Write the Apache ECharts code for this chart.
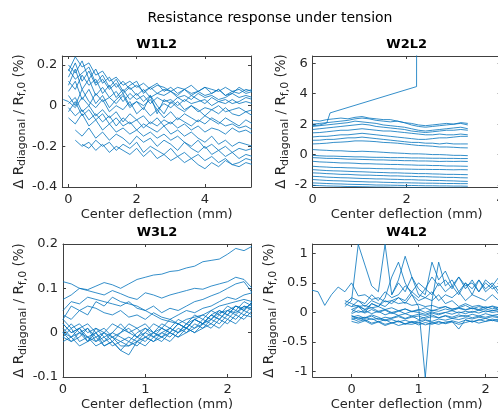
<!DOCTYPE html>
<html><head><meta charset="utf-8">
<script src="https://cdn.jsdelivr.net/npm/echarts@6/dist/echarts.min.js"></script>
<style>html,body{margin:0;padding:0;background:#fff}#c{width:498px;height:414px}</style>
</head><body><div id="c"></div>
<script>
// ---------- W1L2 ----------
const w1x = [-0.15,0,0.2,0.4,0.6,0.8,1,1.2,1.4,1.6,1.8,2,2.2,2.4,2.6,2.8,3,3.2,3.4,3.6,3.8,4,4.2,4.4,4.6,4.8,5,5.2,5.4];
const w1Lines = [
 [null,0.17,0.24,0.19,0.21,0.15,0.17,0.12,0.14,0.10,0.12,0.09,0.11,0.08,0.10,0.09,0.07,0.09,0.08,0.10,0.07,0.09,0.08,0.07,0.09,0.07,0.08,0.06,0.07],
 [null,0.20,0.16,0.22,0.13,0.18,0.11,0.14,0.09,0.12,0.08,0.10,0.07,0.09,0.06,0.08,0.07,0.05,0.08,0.06,0.07,0.05,0.06,0.08,0.05,0.06,0.09,0.07,0.08],
 [null,0.14,0.21,0.12,0.17,0.10,0.13,0.08,0.11,0.06,0.09,0.05,0.08,0.04,0.06,0.05,0.07,0.04,0.05,0.03,0.06,0.04,0.05,0.03,0.04,0.06,0.04,0.05,0.04],
 [null,0.10,0.18,0.08,0.13,0.05,0.09,0.04,0.07,0.02,0.06,0.03,0.05,0.01,0.04,0.02,0.03,0.00,0.03,0.01,0.02,0.03,0.00,0.02,0.01,0.03,0.01,0.02,0.01],
 [0.03,0.02,-0.01,0.04,0.00,0.06,0.02,0.04,0.01,0.05,-0.01,0.02,0.00,0.03,-0.02,0.01,-0.01,0.02,-0.02,0.00,-0.03,-0.01,-0.02,0.00,-0.03,-0.02,-0.01,-0.03,-0.02],
 [null,0.07,0.12,0.03,0.08,0.01,0.05,-0.01,0.03,0.06,0.00,0.02,-0.02,0.05,0.00,-0.04,0.02,-0.01,-0.03,0.00,-0.02,-0.05,-0.02,-0.04,-0.01,-0.04,-0.05,-0.03,-0.05],
 [null,0.05,0.00,0.08,0.02,-0.01,0.03,-0.03,0.00,-0.02,0.02,-0.04,-0.01,-0.05,-0.02,-0.06,-0.03,-0.07,-0.04,-0.06,-0.08,-0.05,-0.07,-0.09,-0.06,-0.08,-0.10,-0.07,-0.09],
 [null,0.01,0.04,-0.03,0.00,-0.05,-0.02,-0.06,-0.03,-0.08,-0.04,-0.07,-0.05,-0.09,-0.06,-0.10,-0.08,-0.11,-0.09,-0.12,-0.10,-0.13,-0.11,-0.12,-0.14,-0.11,-0.13,-0.12,-0.14],
 [null,-0.03,0.02,-0.05,-0.02,-0.07,-0.04,-0.09,-0.06,-0.10,-0.08,-0.12,-0.09,-0.11,-0.13,-0.10,-0.14,-0.12,-0.15,-0.13,-0.16,-0.18,-0.15,-0.19,-0.17,-0.20,-0.18,-0.19,-0.20],
 [null,-0.06,-0.09,-0.04,-0.10,-0.07,-0.12,-0.09,-0.13,-0.11,-0.14,-0.12,-0.15,-0.13,-0.16,-0.14,-0.17,-0.15,-0.18,-0.20,-0.17,-0.21,-0.19,-0.22,-0.20,-0.23,-0.21,-0.22,-0.21],
 [null,null,-0.12,-0.15,-0.11,-0.16,-0.13,-0.17,-0.14,-0.16,-0.19,-0.15,-0.18,-0.16,-0.20,-0.17,-0.19,-0.22,-0.18,-0.21,-0.23,-0.20,-0.24,-0.22,-0.25,-0.23,-0.26,-0.24,-0.25],
 [null,null,-0.17,-0.20,-0.18,-0.22,-0.19,-0.23,-0.20,-0.22,-0.24,-0.21,-0.25,-0.22,-0.26,-0.24,-0.27,-0.25,-0.28,-0.26,-0.29,-0.31,-0.28,-0.30,-0.27,-0.29,-0.28,-0.26,-0.27],
 [null,null,null,-0.19,-0.21,-0.17,-0.20,-0.18,-0.22,-0.19,-0.21,-0.18,-0.23,-0.20,-0.22,-0.24,-0.21,-0.25,-0.23,-0.26,-0.24,-0.27,-0.25,-0.28,-0.26,-0.29,-0.30,-0.28,-0.29],
 [null,0.12,0.08,0.15,0.10,0.13,0.06,0.10,0.04,0.08,0.03,0.06,0.02,0.05,-0.04,0.03,0.01,0.04,0.02,0.05,0.03,0.01,0.04,0.02,0.03,0.01,0.02,0.04,0.03],
 [null,0.18,0.13,0.16,0.19,0.11,0.15,0.09,0.13,0.07,0.10,0.12,0.06,0.09,0.11,0.07,0.09,0.06,0.08,0.05,0.07,0.09,0.06,0.08,0.05,0.07,0.06,0.08,0.07],
 [null,-0.01,-0.05,-0.02,-0.07,-0.04,-0.08,-0.05,-0.10,-0.06,-0.09,-0.07,-0.11,-0.08,-0.10,-0.07,-0.09,-0.06,-0.08,-0.10,-0.07,-0.09,-0.06,-0.08,-0.10,-0.09,-0.11,-0.10,-0.12]
];
const w1XTicks = [0, 2, 4];
const w1YTicks = [-0.4, -0.2, 0, 0.2];

// ---------- W2L2 ----------
const w2x = [0,0.15,0.3,0.45,0.6,0.75,0.9,1.05,1.2,1.35,1.5,1.65,1.8,1.95,2.1,2.25,2.4,2.55,2.7,2.85,3,3.15,3.3];
const w2Lines = [
 [2.25,2.2,2.3,2.35,2.4,2.35,2.45,2.5,2.4,2.35,2.3,2.3,2.2,2.1,2.05,1.95,1.9,1.95,2.0,2.05,2.0,2.1,2.05],
 [2.0,2.05,2.1,2.15,2.2,2.25,2.35,2.4,2.35,2.25,2.2,2.15,2.2,2.1,1.95,1.85,1.8,1.85,1.9,1.95,2.0,2.05,1.95],
 [1.85,1.9,1.95,2.0,2.05,2.1,2.2,2.15,2.1,2.05,1.95,1.9,1.85,1.8,1.7,1.6,1.55,1.6,1.65,1.7,1.75,1.8,1.7],
 [1.65,1.7,1.75,1.8,1.85,1.9,1.95,2.0,1.95,1.85,1.8,1.75,1.7,1.65,1.55,1.5,1.45,1.5,1.55,1.6,1.6,1.65,1.6],
 [1.43,1.45,1.5,1.55,1.6,1.6,1.65,1.7,1.65,1.6,1.55,1.55,1.5,1.45,1.4,1.35,1.3,1.3,1.35,1.3,1.3,1.35,1.3],
 [1.16,1.2,1.2,1.25,1.3,1.3,1.35,1.4,1.35,1.3,1.25,1.2,1.15,1.1,1.05,1.0,1.0,1.05,1.1,1.1,1.15,1.2,1.2],
 [0.94,0.95,1.0,1.0,1.05,1.1,1.1,1.15,1.1,1.05,1.0,0.95,0.9,0.85,0.8,0.8,0.75,0.75,0.7,0.75,0.7,0.7,0.7],
 [0.7,0.72,0.75,0.8,0.82,0.85,0.9,0.9,0.88,0.85,0.8,0.78,0.75,0.7,0.65,0.6,0.58,0.55,0.5,0.5,0.48,0.45,0.44],
 [0.33,0.3,0.28,0.25,0.25,0.22,0.2,0.22,0.2,0.18,0.15,0.12,0.1,0.08,0.05,0.05,0.03,0.0,0.0,-0.02,-0.05,-0.05,-0.07],
 [-0.05,-0.08,-0.1,-0.1,-0.12,-0.13,-0.15,-0.15,-0.17,-0.18,-0.18,-0.2,-0.2,-0.2,-0.22,-0.22,-0.23,-0.24,-0.24,-0.25,-0.25,-0.26,-0.26],
 [-0.2,-0.22,-0.25,-0.25,-0.27,-0.3,-0.3,-0.32,-0.33,-0.35,-0.35,-0.37,-0.38,-0.4,-0.4,-0.42,-0.42,-0.43,-0.45,-0.44,-0.45,-0.44,-0.45],
 [-0.44,-0.48,-0.5,-0.52,-0.55,-0.55,-0.57,-0.6,-0.6,-0.62,-0.63,-0.65,-0.65,-0.67,-0.68,-0.7,-0.7,-0.72,-0.72,-0.75,-0.75,-0.76,-0.77],
 [-0.77,-0.8,-0.82,-0.85,-0.85,-0.87,-0.88,-0.9,-0.9,-0.92,-0.93,-0.93,-0.95,-0.95,-0.96,-0.97,-0.97,-0.98,-0.98,-0.99,-1.0,-0.99,-1.0],
 [-0.99,-1.02,-1.05,-1.07,-1.08,-1.1,-1.12,-1.13,-1.15,-1.17,-1.18,-1.2,-1.2,-1.22,-1.23,-1.25,-1.25,-1.27,-1.28,-1.3,-1.3,-1.31,-1.32],
 [-1.2,-1.22,-1.25,-1.27,-1.3,-1.3,-1.33,-1.35,-1.35,-1.37,-1.38,-1.4,-1.4,-1.42,-1.43,-1.45,-1.45,-1.47,-1.48,-1.5,-1.5,-1.52,-1.53],
 [-1.43,-1.45,-1.48,-1.5,-1.52,-1.53,-1.55,-1.57,-1.58,-1.6,-1.6,-1.62,-1.63,-1.65,-1.65,-1.67,-1.68,-1.7,-1.7,-1.72,-1.73,-1.75,-1.76],
 [-1.64,-1.67,-1.7,-1.72,-1.73,-1.75,-1.77,-1.78,-1.8,-1.8,-1.82,-1.83,-1.85,-1.85,-1.86,-1.87,-1.88,-1.88,-1.89,-1.9,-1.9,-1.91,-1.91],
 [-1.86,-1.88,-1.9,-1.92,-1.93,-1.95,-1.96,-1.97,-1.98,-2.0,-2.0,-2.01,-2.02,-2.03,-2.03,-2.04,-2.05,-2.05,-2.06,-2.06,-2.07,-2.07,-2.08],
 [-2.02,-2.04,-2.06,-2.07,-2.08,-2.1,-2.1,-2.11,-2.12,-2.13,-2.13,-2.14,-2.15,-2.15,-2.16,-2.17,-2.17,-2.18,-2.18,-2.19,-2.19,-2.2,-2.2]
];
const w2OutlierX = [0, 0.15, 0.3, 0.37, 2.21, 2.22];
const w2OutlierY = [1.9, 1.95, 2.08, 2.74, 4.47, 40];
const w2XTicks = [0, 2, 4];
const w2YTicks = [-2, 0, 2, 4, 6];

// ---------- W3L2 ----------
const w3x = [0,0.1,0.2,0.3,0.4,0.5,0.6,0.7,0.8,0.9,1,1.1,1.2,1.3,1.4,1.5,1.6,1.7,1.8,1.9,2,2.1,2.2,2.3,2.4];
const w3Lines = [
 [0.115,0.11,0.1,0.097,0.105,0.113,0.108,0.1,0.11,0.12,0.125,0.13,0.132,0.138,0.14,0.146,0.15,0.16,0.163,0.166,0.177,0.19,0.185,0.195,0.19],
 [0.075,0.085,0.1,0.095,0.09,0.085,0.095,0.088,0.08,0.075,0.09,0.085,0.078,0.085,0.09,0.095,0.1,0.098,0.105,0.11,0.115,0.125,0.12,0.1,0.105],
 [0.05,0.07,0.065,0.08,0.075,0.07,0.065,0.06,0.07,0.055,0.05,0.06,0.045,0.055,0.05,0.06,0.07,0.075,0.083,0.09,0.1,0.11,0.115,0.09,0.095],
 [0.04,0.03,0.05,0.06,0.055,0.045,0.04,0.05,0.035,0.04,0.03,0.045,0.035,0.03,0.04,0.05,0.045,0.055,0.06,0.07,0.08,0.075,0.085,0.09,0.088],
 [0.03,0.06,0.05,0.04,0.07,0.06,0.08,0.07,0.065,0.06,0.05,0.04,0.03,0.025,0.02,0.03,0.035,0.04,0.05,0.06,0.065,0.07,0.075,0.07,0.072],
 [0.02,0.0,0.01,-0.01,0.0,-0.02,0.0,-0.01,-0.02,0.0,0.01,-0.01,0.0,0.01,0.0,0.02,0.01,0.03,0.02,0.04,0.03,0.05,0.04,0.06,0.05],
 [0.0,-0.02,-0.01,0.01,-0.02,-0.01,-0.03,-0.02,-0.01,-0.02,0.0,-0.01,0.01,0.0,0.02,0.01,0.03,0.02,0.04,0.03,0.05,0.04,0.06,0.05,0.06],
 [-0.01,0.01,-0.02,-0.01,-0.03,-0.02,-0.01,-0.03,-0.03,-0.02,-0.01,-0.02,0.0,-0.01,0.01,0.0,0.02,0.01,0.03,0.05,0.04,0.06,0.05,0.07,0.06],
 [0.03,0.01,0.02,0.0,0.01,0.0,0.02,0.01,0.0,0.01,-0.01,0.0,0.02,0.01,0.03,0.02,0.04,0.03,0.05,0.04,0.06,0.05,0.07,0.06,0.065],
 [-0.02,-0.01,-0.03,-0.02,-0.01,-0.03,-0.02,-0.04,-0.02,-0.03,-0.01,-0.02,-0.01,0.0,-0.01,0.01,0.0,0.02,0.01,0.03,0.02,0.04,0.03,0.05,0.04],
 [0.01,-0.01,0.0,-0.02,0.01,-0.01,0.0,0.02,0.0,-0.01,0.01,0.0,-0.01,0.01,0.0,0.02,0.03,0.02,0.04,0.05,0.04,0.06,0.055,0.065,0.06],
 [0.0,0.02,0.0,0.01,-0.01,0.0,-0.02,0.0,0.01,-0.01,0.0,0.02,0.01,0.0,0.02,0.01,0.03,0.04,0.03,0.045,0.05,0.045,0.06,0.055,0.06],
 [-0.01,-0.02,0.0,-0.01,-0.02,0.0,-0.01,-0.02,-0.03,-0.01,-0.02,0.0,-0.01,-0.02,0.0,0.01,0.0,0.01,0.02,0.01,0.03,0.02,0.04,0.035,0.045],
 [0.02,0.0,0.01,0.02,0.0,0.01,-0.01,0.0,0.02,0.01,0.02,0.0,0.01,0.03,0.02,0.01,0.03,0.02,0.04,0.03,0.05,0.06,0.05,0.07,0.065],
 [0.0,-0.01,0.01,-0.02,0.0,-0.03,-0.02,-0.04,-0.05,-0.02,-0.03,-0.01,-0.02,0.0,-0.01,0.0,0.01,0.02,0.03,0.02,0.04,0.03,0.05,0.04,0.05]
];
const w3XTicks = [0, 1, 2];
const w3YTicks = [-0.1, 0, 0.1, 0.2];

// ---------- W4L2 ----------
const w4x = [-0.6,-0.5,-0.4,-0.3,-0.2,-0.1,0,0.1,0.2,0.3,0.4,0.5,0.6,0.7,0.8,0.9,1,1.1,1.2,1.3,1.4,1.5,1.6,1.7,1.8,1.9,2,2.1,2.2,2.3];
const w4Lines = [
 [0.38,0.35,0.12,0.3,0.43,0.35,0.5,0.28,0.3,0.22,0.25,0.18,0.2,0.15,0.17,0.12,0.14,0.1,0.12,0.08,0.1,0.06,0.08,0.05,0.07,0.04,0.06,0.03,0.05,0.04],
 [null,null,null,null,null,0.1,0.2,1.15,0.8,0.45,0.35,1.15,0.3,0.55,0.95,0.6,0.3,0.25,0.2,0.3,0.15,0.2,0.1,0.15,0.1,0.12,0.08,0.1,0.05,0.08],
 [null,null,null,null,null,null,0.05,0.1,0.0,0.15,0.1,0.25,0.6,0.85,0.5,0.3,0.1,-1.1,0.2,0.85,0.45,0.55,0.35,0.5,0.3,0.55,0.4,0.5,0.35,0.45],
 [null,null,null,null,null,null,0.1,0.2,0.15,0.3,0.2,0.35,0.25,0.3,0.45,0.35,0.5,0.4,0.6,0.45,0.55,0.4,0.6,0.45,0.5,0.35,0.55,0.45,0.6,0.5],
 [null,null,null,null,null,null,0.0,0.1,0.05,0.15,0.1,0.2,0.15,0.25,0.2,0.35,0.25,0.4,0.3,0.5,0.35,0.45,0.3,0.5,0.4,0.55,0.35,0.45,0.3,0.4],
 [null,null,null,null,null,0.15,0.25,0.2,0.1,0.2,0.15,0.1,0.2,0.25,0.15,0.3,0.2,0.25,0.35,0.2,0.3,0.25,0.35,0.2,0.3,0.25,0.2,0.3,0.2,0.25],
 [null,null,null,null,null,null,null,null,null,null,null,null,0.3,0.5,0.35,0.6,0.4,0.3,0.85,0.55,0.7,0.45,0.6,0.4,0.55,0.35,0.5,0.4,0.45,0.35],
 [null,null,null,null,null,0.15,0.1,0.12,0.05,0.08,0.02,0.05,0.0,0.03,-0.02,0.02,0.0,-0.03,0.01,-0.02,0.0,0.03,-0.01,0.02,0.0,0.04,0.01,0.03,0.05,0.02],
 [null,null,null,null,null,null,-0.05,-0.1,-0.08,-0.12,-0.1,-0.14,-0.12,-0.16,-0.13,-0.17,-0.14,-0.12,-0.15,-0.11,-0.13,-0.1,-0.12,-0.09,-0.11,-0.08,-0.1,-0.07,-0.09,-0.08],
 [null,null,null,null,null,null,-0.1,-0.15,-0.12,-0.18,-0.15,-0.2,-0.17,-0.22,-0.19,-0.2,-0.17,-0.21,-0.18,-0.15,-0.19,-0.16,-0.2,-0.17,-0.14,-0.18,-0.15,-0.13,-0.16,-0.12],
 [null,null,null,null,null,null,-0.12,-0.08,-0.14,-0.1,-0.16,-0.12,-0.18,-0.14,-0.2,-0.15,-0.18,-0.13,-0.17,-0.2,-0.16,-0.15,-0.28,-0.12,-0.16,-0.13,-0.1,-0.14,-0.11,-0.13],
 [null,null,null,null,null,null,0.05,0.0,0.03,-0.02,0.02,-0.04,0.0,-0.05,-0.02,-0.06,-0.03,-0.05,-0.01,-0.04,0.0,-0.03,0.01,-0.02,0.02,-0.01,0.03,0.0,0.02,0.01],
 [null,null,null,null,null,null,-0.08,-0.05,-0.1,-0.06,-0.12,-0.08,-0.1,-0.07,-0.11,-0.08,-0.06,-0.1,-0.07,-0.09,-0.05,-0.08,-0.04,-0.07,-0.03,-0.06,-0.02,-0.05,-0.03,-0.04],
 [null,null,null,null,null,0.2,0.15,0.1,0.12,0.08,0.1,0.05,0.08,0.03,0.06,0.02,0.05,0.0,0.04,0.02,0.06,0.03,0.07,0.04,0.08,0.05,0.1,0.06,0.09,0.07],
 [null,null,null,null,null,null,-0.15,-0.18,-0.14,-0.2,-0.16,-0.22,-0.18,-0.15,-0.19,-0.16,-0.21,-0.17,-0.2,-0.16,-0.18,-0.14,-0.17,-0.13,-0.16,-0.12,-0.15,-0.11,-0.14,-0.12],
 [null,null,null,null,null,null,-0.02,0.03,-0.01,0.05,0.0,0.04,-0.02,0.02,0.06,0.01,0.04,0.08,0.03,0.06,0.1,0.05,0.08,0.12,0.06,0.1,0.07,0.11,0.08,0.1],
 [null,null,null,null,null,null,-0.06,-0.12,-0.09,-0.04,-0.08,-0.13,-0.09,-0.05,-0.1,-0.06,-0.12,-0.08,-0.04,-0.09,-0.06,-0.1,-0.07,-0.05,-0.09,-0.06,-0.08,-0.05,-0.07,-0.06]
];
const w4XTicks = [0, 1, 2];
const w4YTicks = [-1, -0.5, 0, 0.5, 1];

// ---------- layout / style ----------
const FONT = 'DejaVu Sans';
const TXT = '#262626';
const AX = '#404040';
const LINE = '#0072BD';

const panels = [
  {title:'W1L2', left:62.3, top:56, width:188.7, height:131, xmin:-0.18, xmax:5.35, ymin:-0.4, ymax:0.244,
   xt:w1XTicks, yt:w1YTicks, xs:[{x:w1x, lines:w1Lines}], yGap:33},
  {title:'W2L2', left:312.7, top:56, width:188, height:131, xmin:0, xmax:4, ymin:-2.13, ymax:6.48,
   xt:w2XTicks, yt:w2YTicks, xs:[{x:w2x, lines:w2Lines}, {x:w2OutlierX, lines:[w2OutlierY]}], yGap:20},
  {title:'W3L2', left:63, top:244, width:188, height:133, xmin:0, xmax:2.285, ymin:-0.1, ymax:0.2,
   xt:w3XTicks, yt:w3YTicks, xs:[{x:w3x, lines:w3Lines}], yGap:33},
  {title:'W4L2', left:312.7, top:244, width:188, height:133, xmin:-0.58, xmax:2.226, ymin:-1.09, ymax:1.157,
   xt:w4XTicks, yt:w4YTicks, xs:[{x:w4x, lines:w4Lines}], yGap:30}
];

const yName = '{m|\u0394 R}{s|diagonal}{m| / R}{s|f,0}{m| (%)}';
const grid = [], xAxis = [], yAxis = [], series = [], graphic = [];

graphic.push({type:'text', x:270, y:18, style:{text:'Resistance response under tension', fontFamily:FONT, fontSize:14, fill:'#000', align:'center', verticalAlign:'middle'}});

panels.forEach((p, k) => {
  grid.push({left:p.left, top:p.top, width:p.width, height:p.height, containLabel:false, outerBoundsMode:'none'});
  graphic.push({type:'text', x:p.left + p.width/2, y:p.top - 11, style:{text:p.title, fontFamily:FONT, fontSize:13, fontWeight:'bold', fill:'#000', align:'center', verticalAlign:'middle'}});
  const axLine = {show:true, onZero:false, lineStyle:{color:AX, width:1}};
  const lbl = {fontFamily:FONT, fontSize:13, color:TXT};
  xAxis.push({type:'value', gridIndex:k, position:'bottom', min:p.xmin, max:p.xmax,
    axisLine:axLine, splitLine:{show:false},
    axisTick:{show:true, inside:true, length:3, customValues:p.xt, lineStyle:{color:AX}},
    axisLabel:Object.assign({margin:6, customValues:p.xt, formatter:v=>String(v)}, lbl),
    name:'Center deflection (mm)', nameLocation:'middle', nameGap:21,
    nameTextStyle:{fontFamily:FONT, fontSize:13, color:TXT}});
  xAxis.push({type:'value', gridIndex:k, position:'top', min:p.xmin, max:p.xmax,
    axisLine:axLine, splitLine:{show:false}, axisLabel:{show:false},
    axisTick:{show:true, inside:true, length:3, customValues:p.xt, lineStyle:{color:AX}}});
  yAxis.push({type:'value', gridIndex:k, position:'left', min:p.ymin, max:p.ymax,
    axisLine:axLine, splitLine:{show:false},
    axisTick:{show:true, inside:true, length:3, customValues:p.yt, lineStyle:{color:AX}},
    axisLabel:Object.assign({margin:5, customValues:p.yt, formatter:v=>String(v)}, lbl),
    name:yName, nameLocation:'middle', nameRotate:90, nameGap:p.yGap,
    nameTextStyle:{fontFamily:FONT, color:TXT,
      rich:{m:{fontFamily:FONT, fontSize:13.5, color:TXT, lineHeight:18},
            s:{fontFamily:FONT, fontSize:11, color:TXT, lineHeight:10, verticalAlign:'bottom'}}}});
  yAxis.push({type:'value', gridIndex:k, position:'right', min:p.ymin, max:p.ymax,
    axisLine:axLine, splitLine:{show:false}, axisLabel:{show:false},
    axisTick:{show:true, inside:true, length:3, customValues:p.yt, lineStyle:{color:AX}}});
  p.xs.forEach(set => {
    set.lines.forEach(ys => {
      const data = [];
      ys.forEach((v, i) => { if (v !== null && set.x[i] !== undefined) data.push([set.x[i], v]); });
      series.push({type:'line', xAxisIndex:2*k, yAxisIndex:2*k, data, showSymbol:false, symbol:'none',
        clip:true, silent:true, lineStyle:{color:LINE, width:0.8}, z:2});
    });
  });
});

const chart = echarts.init(document.getElementById('c'), null, {renderer:'canvas'});
chart.setOption({animation:false, backgroundColor:'#fff', grid, xAxis, yAxis, series, graphic});
</script></body></html>
